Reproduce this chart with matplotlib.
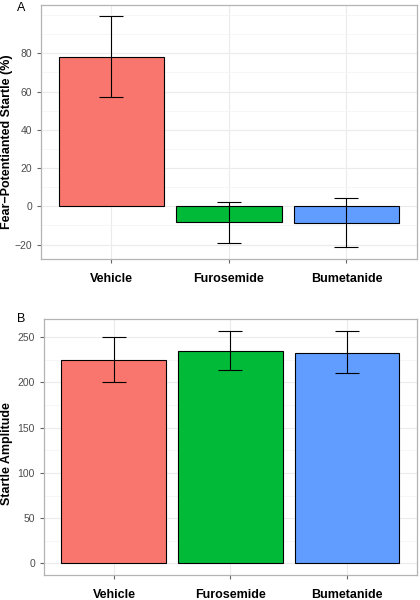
import matplotlib.pyplot as plt
import numpy as np
from matplotlib.ticker import MultipleLocator, FixedLocator

plt.rcParams['font.family'] = ['Liberation Sans', 'DejaVu Sans']

groups = ['Vehicle', 'Furosemide', 'Bumetanide']
colors = ['#F8766D', '#00BA38', '#619CFF']

# panel A: fear-potentiated startle (%)
fps_mean = [78.3, -8.2, -8.7]
fps_low = [57.1, -19.0, -21.5]
fps_high = [99.4, 2.2, 4.3]

# panel B: startle amplitude
amp_mean = [225.0, 235.0, 233.0]
amp_low = [200.0, 214.0, 210.0]
amp_high = [250.0, 257.0, 257.0]


def draw_panel(ax, means, low, high, ylabel, major, tag, tag_xy, label_xy):
    x = np.arange(1, len(groups) + 1)
    means = np.asarray(means)
    err = [means - np.asarray(low), np.asarray(high) - means]
    ax.bar(x, means, width=0.9, color=colors, edgecolor='black', linewidth=0.8, zorder=2)
    ax.errorbar(x, means, yerr=err, fmt='none', ecolor='black', elinewidth=0.8,
                capsize=8.4, capthick=0.8, zorder=3)
    lo, hi = min(low + [0]), max(high)
    pad = (hi - lo) * 0.05
    ax.set_ylim(lo - pad, hi + pad)
    ax.set_xlim(0.4, len(groups) + 0.6)
    # major breaks only inside the data range (old ggplot behaviour)
    majors = np.arange(np.ceil(lo / major) * major, np.floor(hi / major) * major + 1, major)
    ax.yaxis.set_major_locator(FixedLocator(majors))
    ax.yaxis.set_minor_locator(MultipleLocator(major / 2))
    ax.grid(which='major', color='#EBEBEB', linewidth=0.8, zorder=0)
    ax.grid(which='minor', axis='y', color='#F5F5F5', linewidth=0.6, zorder=0)
    ax.set_axisbelow(True)
    ax.tick_params(axis='both', which='major', length=3, color='#666666',
                   labelcolor='#4D4D4D', labelsize=7.5)
    ax.tick_params(axis='x', pad=7, labelcolor='black')
    ax.tick_params(which='minor', length=0)
    ax.set_xticks(x)
    ax.set_xticklabels(groups, fontsize=9, fontweight='bold')
    for s in ax.spines.values():
        s.set_color('#B3B3B3')
        s.set_linewidth(0.9)
    ax.set_ylabel(ylabel, fontsize=9, fontweight='bold')
    ax.yaxis.set_label_coords(*label_xy)
    ax.figure.text(tag_xy[0], tag_xy[1], tag, fontsize=9, ha='center', va='center')


fig = plt.figure(figsize=(4.2, 6.0), dpi=100)
ax_a = fig.add_axes([0.0976, 0.5683, 0.895, 0.4239])
ax_b = fig.add_axes([0.1048, 0.0417, 0.888, 0.4262])

draw_panel(ax_a, fps_mean, fps_low, fps_high, 'Fear\u2212Potentianted Startle (%)', 20, 'A',
           (21.5 / 420, 1 - 8 / 600), (-0.0745, 0.462))
draw_panel(ax_b, amp_mean, amp_low, amp_high, 'Startle Amplitude', 50, 'B',
           (21.5 / 420, 1 - 319 / 600), (-0.083, 0.473))

fig.savefig('out.png', dpi=100)
